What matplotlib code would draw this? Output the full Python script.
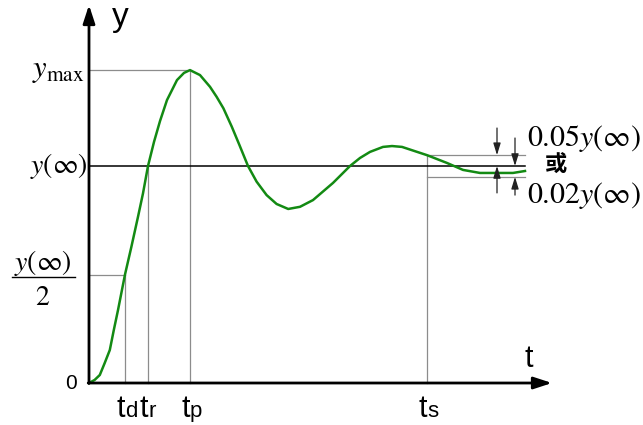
import matplotlib
matplotlib.use("Agg")
import matplotlib.pyplot as plt

plt.rcParams["mathtext.fontset"] = "stix"
SANS = ["Liberation Sans", "DejaVu Sans"]

# Step response of an under-damped second-order system (y(inf) normalised to 1)
t_vals = [0, 0.14, 0.27, 0.39, 0.52, 0.62, 0.725, 0.9, 1.06, 1.225,
          1.35, 1.475, 1.625, 1.775, 1.95, 2.2, 2.375, 2.525, 2.775, 3.025,
          3.19, 3.36, 3.57, 3.76, 3.975, 4.19, 4.44, 4.69, 4.98, 5.275,
          5.6, 6.1, 6.525, 6.775, 7.025, 7.35, 7.575, 7.825, 8.45, 8.95,
          9.35, 9.775, 10.2, 10.6, 10.9]
y_vals = [0, 0.014, 0.037, 0.091, 0.152, 0.244, 0.336, 0.5, 0.628, 0.766,
          0.874, 1.0, 1.111, 1.207, 1.304, 1.396, 1.429, 1.442, 1.419, 1.365,
          1.319, 1.266, 1.181, 1.097, 1.0, 0.928, 0.866, 0.825, 0.802, 0.812,
          0.843, 0.922, 1.0, 1.037, 1.065, 1.088, 1.092, 1.088, 1.05, 1.014,
          0.982, 0.968, 0.968, 0.968, 0.977]

# Characteristic quantities
y_inf = 1.0
y_max = 1.442
tol = 0.05
t_d, t_r, t_p, t_s = 0.9, 1.475, 2.525, 8.45
t_end = 10.9
t_axis_end = 11.575
y_axis_end = 1.742

tick_names = [("t", "d", t_d), ("t", "r", t_r), ("t", "p", t_p), ("t", "s", t_s)]

fig = plt.figure(figsize=(6.43, 4.25), dpi=100)
ax = fig.add_axes([0, 0, 1, 1])
ax.set_xlim(-2.225, 13.85)
ax.set_ylim(-0.1935, 1.765)
ax.axis("off")

grey = "#8c8c8c"
# Guide lines
ax.plot([0, t_d], [y_inf / 2, y_inf / 2], color=grey, lw=0.9)
ax.plot([t_d, t_d], [0, y_inf / 2], color=grey, lw=0.9)
ax.plot([t_r, t_r], [0, y_inf], color=grey, lw=0.9)
ax.plot([0, t_p], [y_max, y_max], color=grey, lw=0.9)
ax.plot([t_p, t_p], [0, y_max], color=grey, lw=0.9)
ax.plot([t_s, t_s], [0, y_inf + tol], color=grey, lw=0.9)
ax.plot([t_s, t_end], [y_inf + tol, y_inf + tol], color=grey, lw=0.9)
ax.plot([t_s, t_end], [y_inf - tol, y_inf - tol], color=grey, lw=0.9)
ax.plot([0, t_end], [y_inf, y_inf], color="black", lw=1.1)

# Response curve
ax.plot(t_vals, y_vals, color="#138a13", lw=1.8, solid_joinstyle="round")

# Axes with arrow heads
axis_arrow = dict(arrowstyle="-|>,head_length=0.55,head_width=0.18", lw=2,
                  color="black", mutation_scale=20, shrinkA=0, shrinkB=0)
ax.annotate("", xy=(0, y_axis_end), xytext=(0, -0.002), arrowprops=axis_arrow)
ax.annotate("", xy=(t_axis_end, 0), xytext=(-0.02, 0), arrowprops=axis_arrow)

# Tolerance band arrows
small_arrow = dict(arrowstyle="-|>,head_length=0.72,head_width=0.22", lw=0.9,
                   color="#222222", mutation_scale=10, shrinkA=0, shrinkB=0)
xa, xb = 10.2, 10.65
ax.annotate("", xy=(xa, y_inf + tol), xytext=(xa, 1.175), arrowprops=small_arrow)
ax.annotate("", xy=(xa, y_inf), xytext=(xa, 0.876), arrowprops=small_arrow)
ax.annotate("", xy=(xb, y_inf), xytext=(xb, 1.129), arrowprops=small_arrow)
ax.annotate("", xy=(xb, y_inf - tol), xytext=(xb, 0.866), arrowprops=small_arrow)

ax.text(10.95, 1.129, r"$0.05y(\infty)$", fontsize=21.5, ha="left", va="center")
ax.text(11.68, 1.005, "或", fontsize=16, fontweight="bold", ha="center",
        va="center", family=["Noto Sans CJK SC", "DejaVu Sans"])
ax.text(10.95, 0.866, r"$0.02y(\infty)$", fontsize=21.5, ha="left", va="center")

# Axis names
ax.text(0.78, 1.645, "y", fontsize=24, family=SANS, ha="center", va="baseline")
ax.text(11.0, 0.074, "t", fontsize=22, family=SANS, ha="center", va="baseline")

# Time markers on the t axis
for main, sub, x in tick_names:
    ax.text(x, -0.157, main, fontsize=22, family=SANS, ha="right", va="baseline")
    ax.text(x, -0.157, sub, fontsize=16, family=SANS, ha="left", va="baseline")

# Levels on the y axis
ax.text(-0.44, 0.0, "0", fontsize=15, family=SANS, ha="center", va="center")
ax.text(-0.1, y_max, r"$y_{\mathrm{max}}$", fontsize=22, ha="right", va="center")
ax.text(-0.02, y_inf, r"$y(\infty)$", fontsize=20, ha="right", va="center")
ax.text(-1.15, 0.553, r"$y(\infty)$", fontsize=20, ha="center", va="center")
ax.plot([-1.925, -0.35], [0.488, 0.488], color="black", lw=1.0, clip_on=False)
ax.text(-1.15, 0.396, r"$2$", fontsize=20, ha="center", va="center")

fig.savefig("out.png", dpi=100)
